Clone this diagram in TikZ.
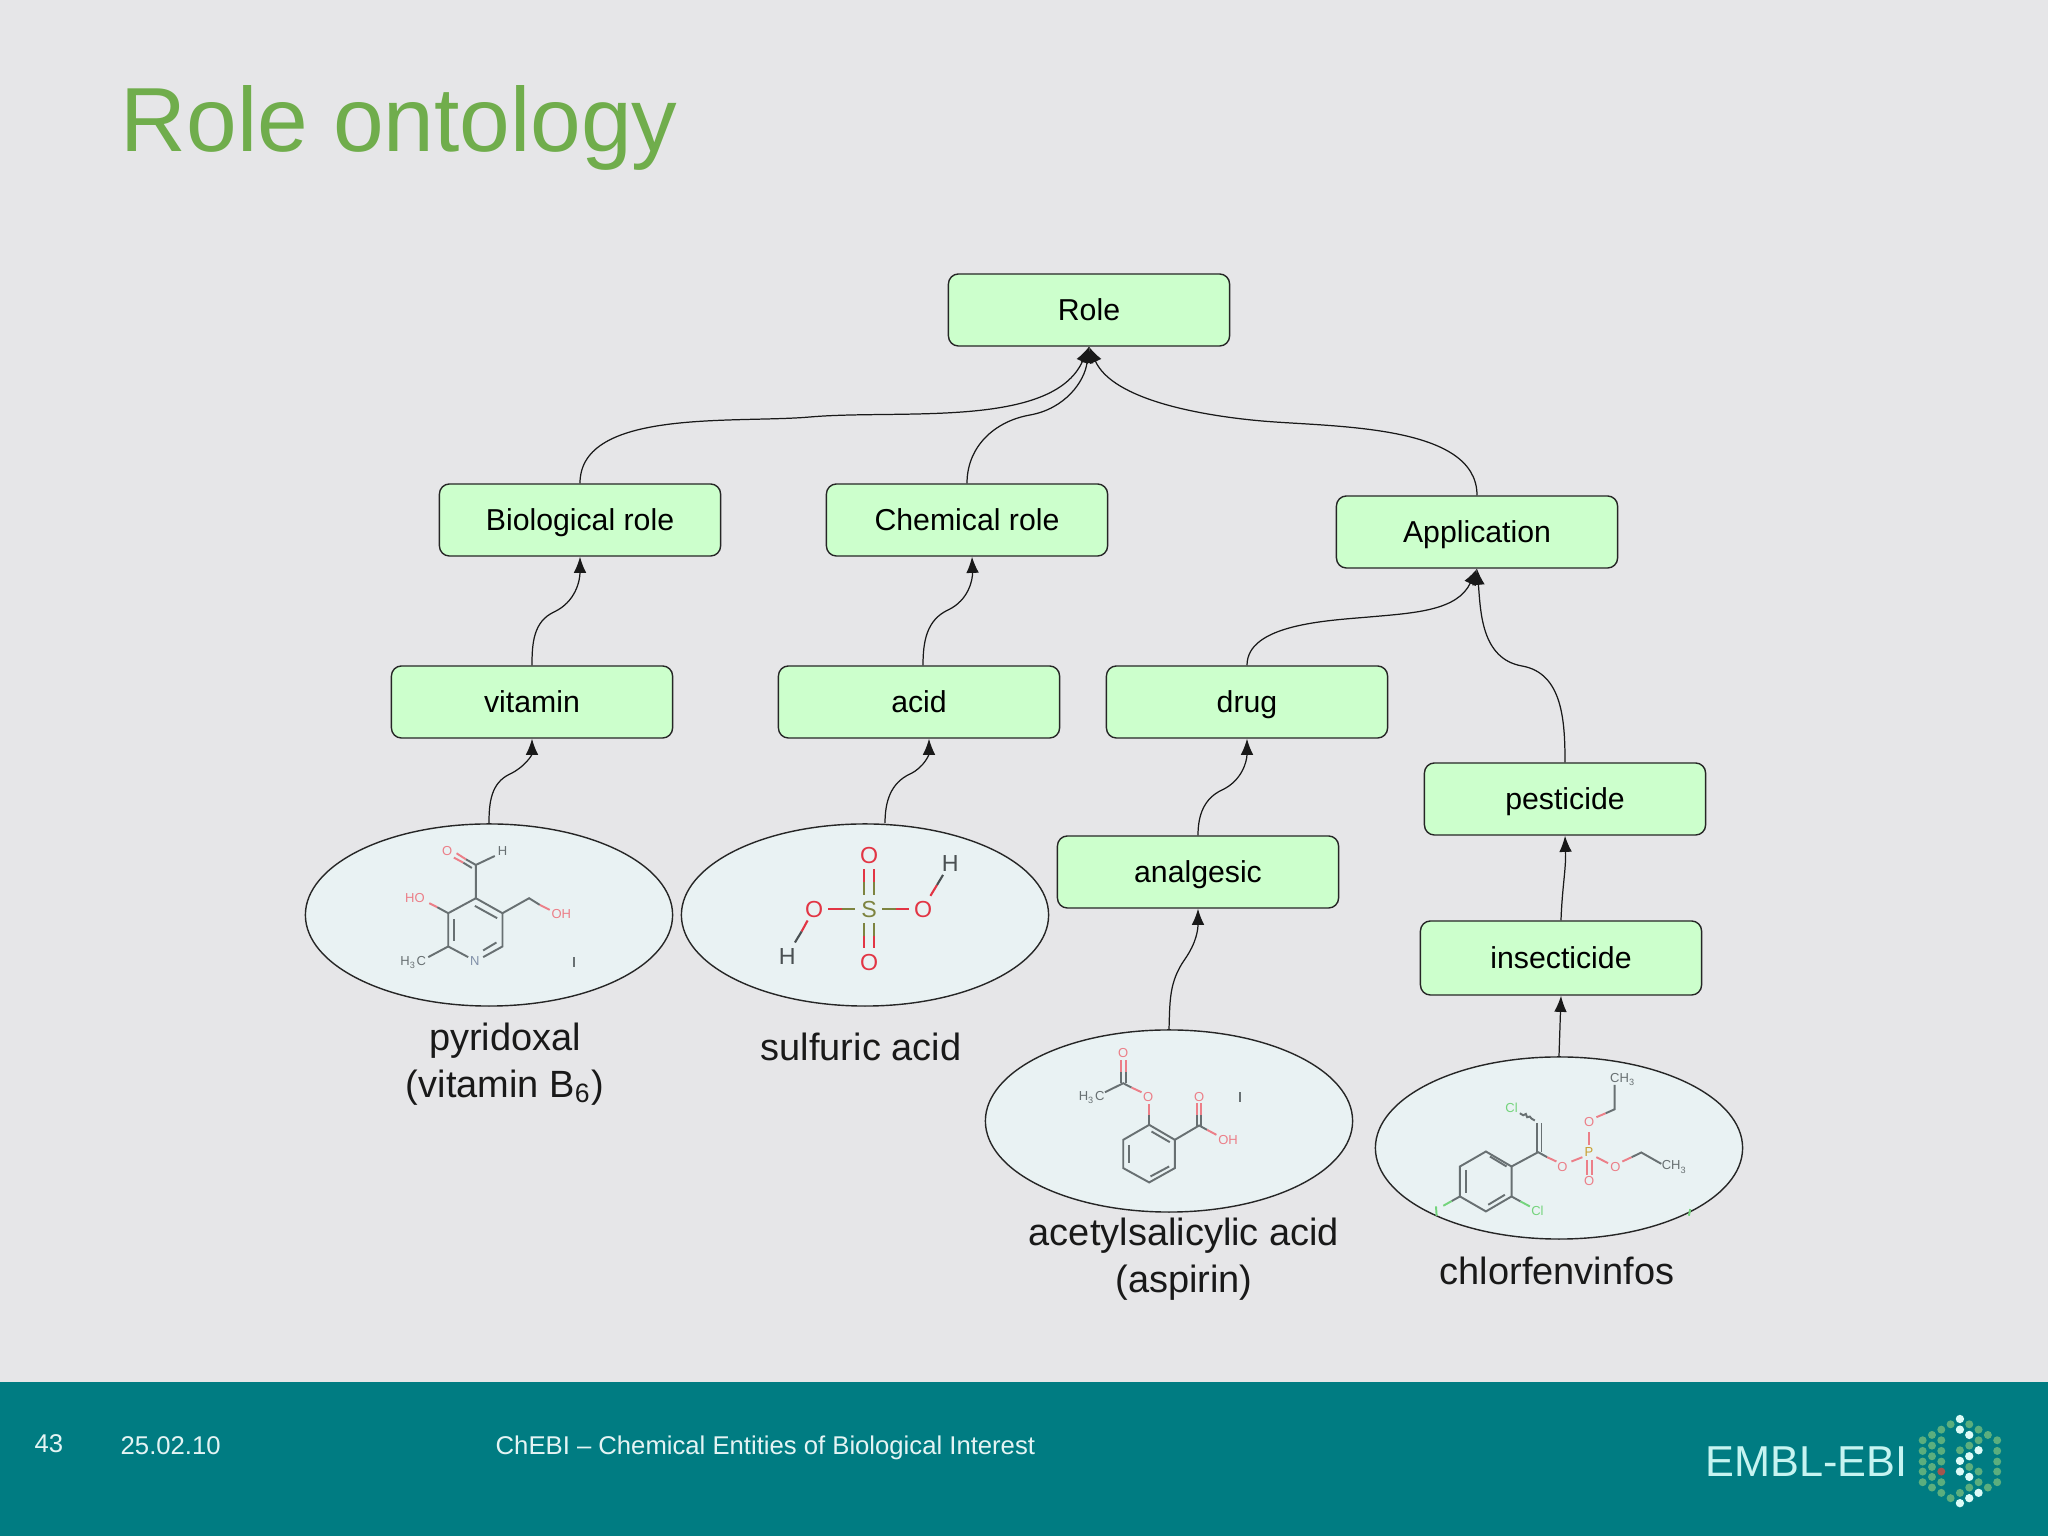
\documentclass[tikz,border=0pt]{standalone}
\usepackage{fontspec}
\setmainfont{Liberation Sans}
\usetikzlibrary{shapes.geometric,arrows.meta}

\definecolor{slidebg}{HTML}{E6E6E8}
\definecolor{titlegreen}{HTML}{70AD4C}
\definecolor{footteal}{HTML}{007C82}
\definecolor{footlight}{HTML}{E4F4F4}
\definecolor{logolight}{HTML}{C6F4F1}
\definecolor{boxgreen}{HTML}{CCFFCC}
\definecolor{molfill}{HTML}{E9F2F3}
\definecolor{dotgreen}{HTML}{5BAE7E}
\definecolor{dotwhite}{HTML}{DDFBF7}
\definecolor{dotred}{HTML}{A4564E}
\definecolor{atomred}{HTML}{EC7F88}
\definecolor{atomgray}{HTML}{687072}
\definecolor{atomblue}{HTML}{8090A8}
\definecolor{atomgreen}{HTML}{74D47C}
\definecolor{atomgold}{HTML}{C8A030}
\definecolor{acidred}{HTML}{E23544}
\definecolor{acidolive}{HTML}{7E8440}
\definecolor{acidgray}{HTML}{4A5052}

\tikzset{
  rolebox/.style={draw=black!85,fill=boxgreen,rounded corners=0.1cm,line width=0.4pt,
    minimum width=2.81cm,minimum height=0.72cm,inner sep=0pt,text depth=0pt,font=\fontsize{8.6}{10}\selectfont},
  molecule/.style={ellipse,draw=black!85,fill=molfill,line width=0.4pt,
    minimum width=3.67cm,minimum height=1.82cm,inner sep=0pt},
  molname/.style={align=center,inner sep=0pt,text=black!90,font=\fontsize{10.8}{13.2}\selectfont},
  link/.style={line width=0.35pt,black!90,-{Latex[length=4.6pt,width=3.6pt]}},
  foottext/.style={anchor=west,inner sep=0pt,text=footlight,font=\fontsize{7.3}{9}\selectfont},
  atom/.style={inner sep=0pt,font=\fontsize{3.7}{4}\selectfont},
  bigatom/.style={inner sep=0pt,font=\fontsize{6.6}{7}\selectfont},
  bond/.style={line width=0.55pt,atomgray},
  redbond/.style={line width=0.55pt,atomred},
  acidbond/.style={line width=0.6pt}
}

\begin{document}
\begin{tikzpicture}[x=0.01cm,y=0.01cm]

    \useasboundingbox (0,0) rectangle (2048,1536);

    % Slide background and footer band
    \fill[slidebg] (0,0) rectangle (2048,1536);
    \fill[footteal] (0,0) rectangle (2048,154);

    % Title
    \node[anchor=west,inner sep=0pt,text=titlegreen,font=\fontsize{25.9}{30}\selectfont] (title) at (120,1408) {Role ontology};

    % Role boxes
    \node[rolebox] (role) at (1089,1226) {Role};
    \node[rolebox] (biorole) at (580,1016) {Biological role};
    \node[rolebox] (chemrole) at (967,1016) {Chemical role};
    \node[rolebox] (application) at (1477,1004) {Application};
    \node[rolebox] (vitamin) at (532,834) {vitamin};
    \node[rolebox] (acid) at (919,834) {acid};
    \node[rolebox] (drug) at (1247,834) {drug};
    \node[rolebox] (pesticide) at (1565,737) {pesticide};
    \node[rolebox] (analgesic) at (1198,664) {analgesic};
    \node[rolebox,minimum height=0.74cm] (insecticide) at (1561,578) {insecticide};

    % Molecule ellipses
    \node[molecule] (pyridoxal) at (489,621) {};
    \node[molecule] (sulfuric) at (865,621) {};
    \node[molecule] (aspirin) at (1169,415) {};
    \node[molecule] (chlorfen) at (1559,388) {};

    % Molecule names
    \node[molname] (pyrname) at (505,472) {pyridoxal\\(vitamin B\textsubscript{6})};
    \node[molname] (sulfname) at (861,489) {sulfuric acid};
    \node[molname] (aspname) at (1184,277) {acetylsalicylic acid\\(aspirin)};
    \node[molname] (chlorname) at (1557,265) {chlorfenvinfos};

    % Links up to Role
    \draw[link] (biorole.north) to[out=90,in=185,looseness=0.8] (810,1119) to[out=5,in=-114,looseness=0.8] (role.south);
    \draw[link] (chemrole.north) to[out=90,in=190] (1030,1121) to[out=10,in=-97] (role.south);
    \draw[link] (application.north) to[out=90,in=-5,looseness=0.8] (1262,1115) to[out=175,in=-66,looseness=0.8] (role.south);

    % Links up to the second level
    \draw[link] (vitamin.north) to[out=90,in=205] (554,924) to[out=25,in=-90] (biorole.south);
    \draw[link] ([xshift=0.04cm]acid.north) to[out=90,in=205] (948,926) to[out=25,in=-88] ([xshift=0.05cm]chemrole.south);
    \draw[link] (drug.north) to[out=90,in=185,looseness=0.8] (1369,919) to[out=5,in=-115] (application.south);
    \draw[link] (pesticide.north) to[out=90,in=-10] (1522,870) to[out=170,in=-85] (application.south);

    % Links from the lower boxes and molecules
    \draw[link] (analgesic.north) to[out=90,in=205] (1222,746) to[out=25,in=-90] (drug.south);
    \draw[link] (insecticide.north) to[out=88,in=-88] (pesticide.south);
    \draw[link] (pyridoxal.north) to[out=90,in=205] (510,762) to[out=25,in=-90] (vitamin.south);
    \draw[link] ([xshift=0.20cm]sulfuric.north) to[out=90,in=205] (910,762) to[out=25,in=-90] ([xshift=0.10cm]acid.south);
    \draw[link] (aspirin.north) to[out=88,in=235] (1185,577) to[out=55,in=-90] (analgesic.south);
    \draw[link] (chlorfen.north) -- (insecticide.south);

    % Pyridoxal
    \begin{scope}[shift={(380,706)},x=0.00333cm,y=-0.00333cm]
        \draw[bond] (288,205) -- (368,250) -- (368,350) -- (310,382);
        \draw[bond] (265,382) -- (205,350) -- (205,250) -- (288,205) -- (288,105) -- (345,78);
        \draw[bond] (285,228) -- (352,265);
        \draw[bond] (222,268) -- (222,335);
        \draw[bond] (350,338) -- (310,362);
        \draw[bond] (205,350) -- (145,382);
        \draw[bond] (205,250) -- (172,232);
        \draw[redbond] (172,232) -- (148,220);
        \draw[bond] (368,250) -- (448,205) -- (480,225);
        \draw[redbond] (480,225) -- (510,240);
        \draw[bond] (288,105) -- (258,88);
        \draw[bond] (276,114) -- (250,98);
        \draw[redbond] (258,88) -- (230,70);
        \draw[redbond] (250,98) -- (222,83);
        \draw[bond] (583,382) -- (583,412);
        \node[atom,text=atomred] (pyrO) at (202,62) {O};
        \node[atom,text=atomgray] (pyrH) at (368,62) {H};
        \node[atom,text=atomred] (pyrHO) at (105,205) {HO};
        \node[atom,text=atomred] (pyrOH) at (545,253) {OH};
        \node[atom,text=atomblue] (pyrN) at (285,395) {N};
        \node[atom,text=atomgray] (pyrMe) at (100,398) {H\textsubscript{3}C};
    \end{scope}

    % Sulfuric acid
    \begin{scope}[shift={(760,706)},x=0.00333cm,y=-0.00333cm]
        \draw[acidbond,acidred] (312,118) -- (312,155) (343,118) -- (343,155);
        \draw[acidbond,acidolive] (312,155) -- (312,195) (343,155) -- (343,195);
        \draw[acidbond,acidolive] (312,280) -- (312,318) (343,280) -- (343,318);
        \draw[acidbond,acidred] (312,318) -- (312,355) (343,318) -- (343,355);
        \draw[acidbond,acidred] (205,238) -- (245,238);
        \draw[acidbond,acidolive] (245,238) -- (285,238);
        \draw[acidbond,acidolive] (368,238) -- (408,238);
        \draw[acidbond,acidred] (408,238) -- (448,238);
        \draw[acidbond,acidred] (512,198) -- (532,165);
        \draw[acidbond,acidgray] (532,165) -- (550,135);
        \draw[acidbond,acidred] (143,272) -- (125,305);
        \draw[acidbond,acidgray] (125,305) -- (105,338);
        \node[bigatom,text=acidred] (sulfOa) at (328,77) {O};
        \node[bigatom,text=acidred] (sulfOb) at (328,398) {O};
        \node[bigatom,text=acidred] (sulfOc) at (163,238) {O};
        \node[bigatom,text=acidred] (sulfOd) at (490,238) {O};
        \node[bigatom,text=acidolive] (sulfS) at (328,238) {S};
        \node[bigatom,text=acidgray] (sulfHa) at (572,100) {H};
        \node[bigatom,text=acidgray] (sulfHb) at (82,380) {H};
    \end{scope}

    % Aspirin
    \begin{scope}[shift={(1060,501)},x=0.00333cm,y=-0.00333cm]
        \draw[bond] (268,270) -- (345,315) -- (345,400) -- (268,443) -- (190,400) -- (190,315) -- cycle;
        \draw[bond] (275,290) -- (330,322);
        \draw[bond] (328,395) -- (272,425);
        \draw[bond] (207,330) -- (207,385);
        \draw[bond] (268,270) -- (268,240);
        \draw[redbond] (268,240) -- (268,208);
        \draw[bond] (135,172) -- (190,145) -- (215,158);
        \draw[redbond] (215,158) -- (245,172);
        \draw[bond] (183,145) -- (183,110) (197,145) -- (197,110);
        \draw[redbond] (183,110) -- (183,75) (197,110) -- (197,75);
        \draw[bond] (345,315) -- (418,272) -- (442,285);
        \draw[redbond] (442,285) -- (470,300);
        \draw[bond] (411,272) -- (411,240) (425,272) -- (425,240);
        \draw[redbond] (411,240) -- (411,205) (425,240) -- (425,205);
        \draw[bond] (541,172) -- (541,202);
        \node[atom,text=atomred] (aspOa) at (190,53) {O};
        \node[atom,text=atomred] (aspOb) at (265,185) {O};
        \node[atom,text=atomred] (aspOc) at (418,185) {O};
        \node[atom,text=atomred] (aspOH) at (505,315) {OH};
        \node[atom,text=atomgray] (aspMe) at (95,188) {H\textsubscript{3}C};
    \end{scope}

    % Chlorfenvinfos
    \begin{scope}[shift={(1420,476)},x=0.00333cm,y=-0.00333cm]
        \draw[bond] (275,320) -- (275,410) -- (198,455) -- (120,410) -- (120,320) -- (198,275) -- cycle;
        \draw[bond] (210,290) -- (260,320);
        \draw[bond] (255,405) -- (205,435);
        \draw[bond] (137,330) -- (137,400);
        \draw[bond] (275,320) -- (355,277) -- (382,292);
        \draw[redbond] (382,292) -- (410,305);
        \draw[bond] (352,277) -- (352,190) (365,277) -- (365,190);
        \draw[bond] (345,182) -- (335,176) -- (330,170) -- (322,172) -- (318,162) -- (310,166) -- (300,160);
        \draw[bond] (275,410) -- (302,425);
        \draw[atomgreen,line width=0.55pt] (302,425) -- (330,440);
        \draw[bond] (120,410) -- (95,424);
        \draw[atomgreen,line width=0.55pt] (95,424) -- (70,438);
        \draw[atomgreen,line width=0.55pt] (48,440) -- (50,468);
        \draw[atomgreen,line width=0.55pt] (812,448) -- (808,468);
        \draw[redbond] (455,305) -- (488,292);
        \draw[redbond] (508,255) -- (508,215);
        \draw[redbond] (503,300) -- (503,345) (516,300) -- (516,345);
        \draw[redbond] (530,292) -- (565,310);
        \draw[redbond] (530,172) -- (558,160);
        \draw[bond] (558,160) -- (585,148) -- (585,75);
        \draw[redbond] (608,305) -- (636,292);
        \draw[bond] (636,292) -- (665,278) -- (725,312);
        \node[atom,text=atomgreen] (chlCla) at (275,145) {Cl};
        \node[atom,text=atomgreen] (chlClb) at (353,452) {Cl};
        \node[atom,text=atomred] (chlOa) at (428,323) {O};
        \node[atom,text=atomgold] (chlP) at (508,278) {P};
        \node[atom,text=atomred] (chlOb) at (508,365) {O};
        \node[atom,text=atomred] (chlOc) at (508,187) {O};
        \node[atom,text=atomred] (chlOd) at (587,322) {O};
        \node[atom,text=atomgray] (chlMea) at (610,58) {CH\textsubscript{3}};
        \node[atom,text=atomgray] (chlMeb) at (765,322) {CH\textsubscript{3}};
    \end{scope}

    % Footer texts
    \node[foottext] (pagenum) at (34,92) {43};
    \node[foottext] (slidedate) at (120,90) {25.02.10};
    \node[foottext] (talkname) at (495,88) {ChEBI -- Chemical Entities of Biological Interest};
    \node[anchor=west,inner sep=0pt,text=logolight,font=\fontsize{12.3}{14}\selectfont] (embl) at (1705,74) {EMBL-EBI};

    % Logo dots
    \begin{scope}[shift={(1910,131)},x=0.00333cm,y=-0.00333cm]
        \fill[dotgreen] (38,106) circle (12) (38,138) circle (12) (38,170) circle (12) (38,200) circle (12) (38,232) circle (12)
            (66,90) circle (12) (66,122) circle (12) (66,154) circle (12) (66,186) circle (12) (66,216) circle (12) (66,248) circle (12)
            (94,74) circle (12) (94,106) circle (12) (94,138) circle (12) (94,170) circle (12) (94,232) circle (12) (94,264) circle (12)
            (122,58) circle (12) (122,280) circle (12)
            (150,136) circle (12) (150,264) circle (12)
            (178,58) circle (12) (178,122) circle (12) (178,186) circle (12) (178,248) circle (12)
            (206,74) circle (12) (206,106) circle (12) (206,200) circle (12) (206,232) circle (12)
            (234,90) circle (12) (234,248) circle (12)
            (262,106) circle (12) (262,138) circle (12) (262,170) circle (12) (262,200) circle (12) (262,232) circle (12);
        \fill[dotwhite] (150,42) circle (12.5) (150,74) circle (12.5) (150,168) circle (12.5) (150,200) circle (12.5) (150,295) circle (12.5)
            (178,90) circle (12.5) (178,154) circle (12.5) (178,216) circle (12.5) (178,280) circle (12.5)
            (206,136) circle (12.5) (206,264) circle (12.5);
        \fill[dotred] (94,200) circle (12);
    \end{scope}

\end{tikzpicture}
\end{document}
